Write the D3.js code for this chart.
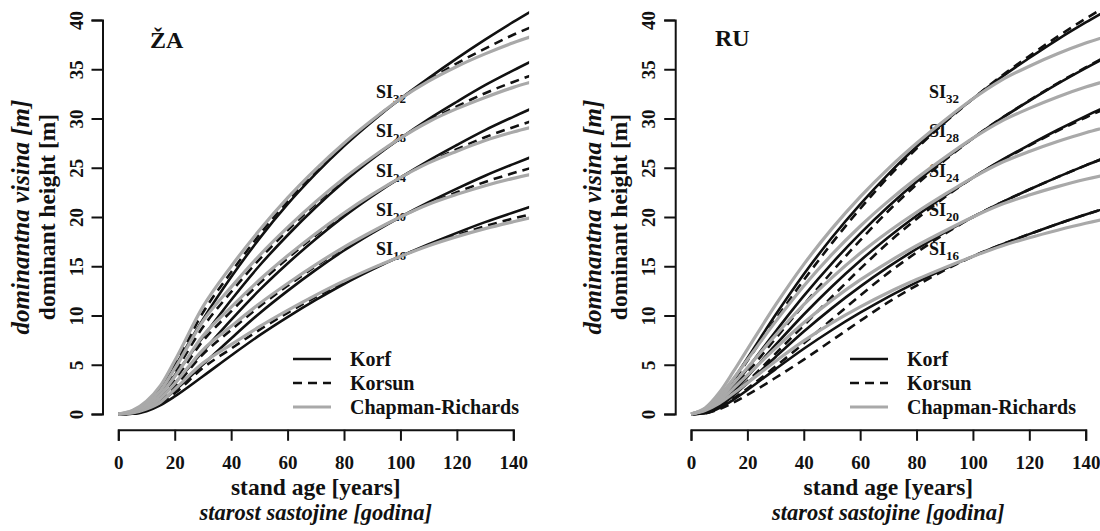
<!DOCTYPE html>
<html><head><meta charset="utf-8">
<script src="https://cdn.jsdelivr.net/npm/d3@7"></script>
<style>
html,body{margin:0;padding:0;background:#fff;}
text{font-family:"Liberation Serif","Times New Roman",serif;font-weight:bold;fill:#111;}
</style></head>
<body>
<svg id="chart" width="1100" height="531"></svg>
<script>
// ---------------- data ----------------
const ages = [0,5,10,15,20,30,40,50,60,70,80,90,100,110,120,130,140,150];
const siClasses = [16,20,24,28,32];
const xTicks = [0,20,40,60,80,100,120,140];
const yTicks = [0,5,10,15,20,25,30,35,40];
const legendLabels = ["Korf","Korsun","Chapman-Richards"];
const panelLabels = ["ŽA","RU"];

// ŽA panel (rows: SI16, SI20, SI24, SI28, SI32)
const zaKorf = [
  [0,0.02,0.29,0.91,1.78,3.83,5.94,7.98,9.84,11.58,13.20,14.66,16,17.24,18.39,19.48,20.46,21.41],
  [0,0.03,0.41,1.25,2.39,5.02,7.67,10.21,12.50,14.63,16.60,18.37,20,21.50,22.88,24.19,25.37,26.50],
  [0,0.04,0.57,1.67,3.12,6.35,9.55,12.57,15.28,17.77,20.06,22.12,24,25.73,27.31,28.82,30.17,31.46],
  [0,0.06,0.77,2.17,3.94,7.82,11.57,15.05,18.15,20.99,23.58,25.89,28,29.94,31.70,33.38,34.88,36.31],
  [0,0.10,0.90,2.50,4.80,9.60,13.90,17.80,21.30,24.40,27.20,29.70,32,34.10,36.10,38.00,39.80,41.50]
];
const zaKorsun = [
  [0,0.03,0.38,1.10,2.10,4.68,6.64,8.54,10.27,11.89,13.40,14.75,16,17.14,18.15,19.06,19.84,20.54],
  [0,0.05,0.50,1.50,2.80,6.07,8.53,10.90,13.02,15.01,16.84,18.48,20,21.35,22.51,23.56,24.46,25.27],
  [0,0.06,0.70,1.95,3.50,7.41,10.42,13.26,15.80,18.14,20.30,22.23,24,25.56,26.88,28.10,29.12,30.04],
  [0,0.10,0.90,2.40,4.30,8.83,12.39,15.70,18.64,21.34,23.80,26.00,28,29.75,31.22,32.57,33.71,34.73],
  [0,0.15,1.10,2.80,5.00,10.30,14.40,18.20,21.60,24.60,27.30,29.80,32,33.90,35.60,37.10,38.50,39.70]
];
const zaChapman = [
  [0,0.10,0.50,1.20,2.50,5.17,7.05,8.86,10.52,12.07,13.51,14.81,16,17.09,18.01,18.82,19.52,20.17],
  [0,0.15,0.65,1.60,3.10,6.52,8.90,11.19,13.25,15.17,16.94,18.53,20,21.29,22.30,23.18,23.92,24.55],
  [0,0.20,0.90,2.00,3.80,7.94,10.85,13.60,16.06,18.33,20.41,22.29,24,25.49,26.68,27.76,28.63,29.37],
  [0,0.30,1.10,2.40,4.60,9.43,12.88,16.09,18.94,21.55,23.93,26.06,28,29.67,31.00,32.14,33.16,33.98],
  [0,0.35,1.30,2.90,5.40,10.90,14.99,18.65,21.94,24.86,27.49,29.84,32,33.79,35.28,36.56,37.69,38.65]
];
// RU panel
const ruKorf = [
  [0,0.08,0.60,1.44,2.44,4.56,6.62,8.53,10.28,11.90,13.37,14.74,16,17.18,18.26,19.29,20.25,21.16],
  [0,0.11,0.78,1.86,3.13,5.79,8.37,10.75,12.93,14.93,16.76,18.44,20,21.46,22.79,24.05,25.24,26.36],
  [0,0.14,0.96,2.27,3.80,7.01,10.10,12.95,15.56,17.95,20.13,22.14,24,25.74,27.32,28.83,30.24,31.57],
  [0,0.18,1.19,2.78,4.61,8.38,11.99,15.30,18.31,21.06,23.57,25.88,28,29.99,31.79,33.51,35.11,36.63],
  [0,0.25,1.55,3.49,5.67,10.07,14.19,17.92,21.29,24.36,27.13,29.67,32,34.18,36.14,38.01,39.75,41.40]
];
const ruKorsun = [
  [0,0.08,0.49,1.16,1.94,3.68,5.52,7.48,9.45,11.35,13.04,14.60,16,17.18,18.26,19.29,20.25,21.16],
  [0,0.11,0.66,1.56,2.59,4.83,7.17,9.61,12.03,14.33,16.40,18.28,20,21.46,22.79,24.05,25.24,26.36],
  [0,0.14,0.85,1.99,3.30,6.13,9.00,11.90,14.73,17.40,19.80,22.00,24,25.70,27.25,28.75,30.10,31.40],
  [0,0.18,1.10,2.55,4.20,7.66,11.09,14.44,17.63,20.61,23.30,25.76,28,30.01,31.83,33.57,35.18,36.72],
  [0,0.25,1.49,3.34,5.40,9.59,13.59,17.35,20.84,24.06,26.95,29.59,32,34.29,36.35,38.31,40.14,41.87]
];
const ruChapman = [
  [0,0.36,1.08,2.08,3.16,5.36,7.42,9.25,10.88,12.34,13.65,14.86,16,17.04,17.90,18.66,19.36,19.97],
  [0,0.43,1.32,2.58,3.94,6.69,9.27,11.56,13.61,15.43,17.08,18.58,20,21.26,22.23,23.08,23.83,24.45],
  [0,0.49,1.56,3.07,4.70,8.01,11.10,13.85,16.31,18.50,20.48,22.29,24,25.50,26.66,27.67,28.56,29.30],
  [0,0.53,1.79,3.58,5.51,9.38,12.99,16.20,19.06,21.61,23.92,26.03,28,29.71,31.03,32.19,33.19,34.04],
  [0,0.60,2.15,4.29,6.57,11.07,15.19,18.82,22.04,24.91,27.48,29.82,32,33.87,35.31,36.57,37.66,38.58]
];

// ---------------- drawing ----------------
const svg = d3.select("#chart");
svg.append("rect").attr("width",1100).attr("height",531).attr("fill","#fff");

const styles = [
  {color:"#111", width:2.6, dash:null},
  {color:"#111", width:2.6, dash:"9,6"},
  {color:"#a9a9a9", width:3.2, dash:null}
];

const panels = [
  {id:"za", label:panelLabels[0], x0:118.3, x1:513.3, labelX:150, labelY:48,
   siX:376, legX:293, series:[zaKorf, zaKorsun, zaChapman]},
  {id:"ru", label:panelLabels[1], x0:691, x1:1085.7, labelX:715, labelY:46,
   siX:929, legX:850, series:[ruKorf, ruKorsun, ruChapman]}
];

const yTop = 20, yBot = 414;

panels.forEach(p => {
  const x = d3.scaleLinear().domain([0,140]).range([p.x0, p.x1]);
  const y = d3.scaleLinear().domain([0,40]).range([yBot, yTop]);
  const axisX = x(-5.6), axisY = y(-1.6);
  const g = svg.append("g");

  const clipId = "clip-" + p.id;
  svg.append("defs").append("clipPath").attr("id", clipId)
    .append("rect").attr("x", x(-5.6)).attr("y", y(41.6))
    .attr("width", x(145.6) - x(-5.6)).attr("height", y(-1.6) - y(41.6));

  // x axis
  const xa = g.append("g").attr("transform", `translate(0,${axisY})`)
    .call(d3.axisBottom(x).tickValues(xTicks).tickSize(11).tickSizeOuter(11));
  xa.select(".domain").attr("stroke","#111").attr("stroke-width",2).attr("fill","none");
  xa.selectAll(".tick line").attr("stroke","#111").attr("stroke-width",2);
  xa.selectAll(".tick text").attr("font-size",19).attr("fill","#111")
    .attr("dy",null).attr("y",39);

  // y axis
  const ya = g.append("g").attr("transform", `translate(${axisX},0)`)
    .call(d3.axisLeft(y).tickValues(yTicks).tickSize(11).tickSizeOuter(11));
  ya.select(".domain").attr("stroke","#111").attr("stroke-width",2).attr("fill","none");
  ya.selectAll(".tick line").attr("stroke","#111").attr("stroke-width",2);
  ya.selectAll(".tick text").attr("font-size",19).attr("fill","#111")
    .attr("text-anchor","middle").attr("dy",null).attr("x",0).attr("y",-20)
    .attr("transform","rotate(-90)");

  // axis titles
  const xc = (p.x0 + p.x1) / 2;
  g.append("text").attr("x", xc).attr("y", 495).attr("text-anchor","middle")
    .attr("font-size",23.5).text("stand age [years]");
  g.append("text").attr("x", xc).attr("y", 520).attr("text-anchor","middle")
    .attr("font-size",22.5).attr("font-style","italic").text("starost sastojine [godina]");
  const yc = (yTop + yBot) / 2;
  g.append("text").attr("transform", `translate(${axisX-48},${yc}) rotate(-90)`)
    .attr("text-anchor","middle").attr("font-size",23.5).text("dominant height [m]");
  g.append("text").attr("transform", `translate(${axisX-74},${yc}) rotate(-90)`)
    .attr("text-anchor","middle").attr("font-size",25).attr("font-style","italic")
    .text("dominantna visina [m]");

  // panel label
  g.append("text").attr("x", p.labelX).attr("y", p.labelY).attr("font-size",24).text(p.label);

  // SI labels
  siClasses.forEach(si => {
    const t = g.append("text").attr("x", p.siX).attr("y", y(si) - 1).attr("font-size",18);
    t.append("tspan").text("SI");
    t.append("tspan").attr("font-size",13).attr("dy",5).text(si);
  });

  // curves
  const line = d3.line().x(d => x(d[0])).y(d => y(d[1])).curve(d3.curveMonotoneX);
  const cg = g.append("g").attr("clip-path", `url(#${clipId})`);
  p.series.forEach((rows, mi) => {
    rows.forEach(vals => {
      const pts = ages.map((a, i) => [a, vals[i]]);
      cg.append("path").attr("d", line(pts)).attr("fill","none")
        .attr("stroke", styles[mi].color).attr("stroke-width", styles[mi].width)
        .attr("stroke-dasharray", styles[mi].dash).attr("stroke-linejoin","round");
    });
  });

  // legend
  const legY = [359, 383, 407];
  legendLabels.forEach((lab, i) => {
    g.append("line").attr("x1", p.legX).attr("x2", p.legX + 38)
      .attr("y1", legY[i]).attr("y2", legY[i])
      .attr("stroke", styles[i].color).attr("stroke-width", styles[i].width)
      .attr("stroke-dasharray", styles[i].dash);
    g.append("text").attr("x", p.legX + 57).attr("y", legY[i] + 6.5)
      .attr("font-size",20).text(lab);
  });
});
</script>
</body></html>
